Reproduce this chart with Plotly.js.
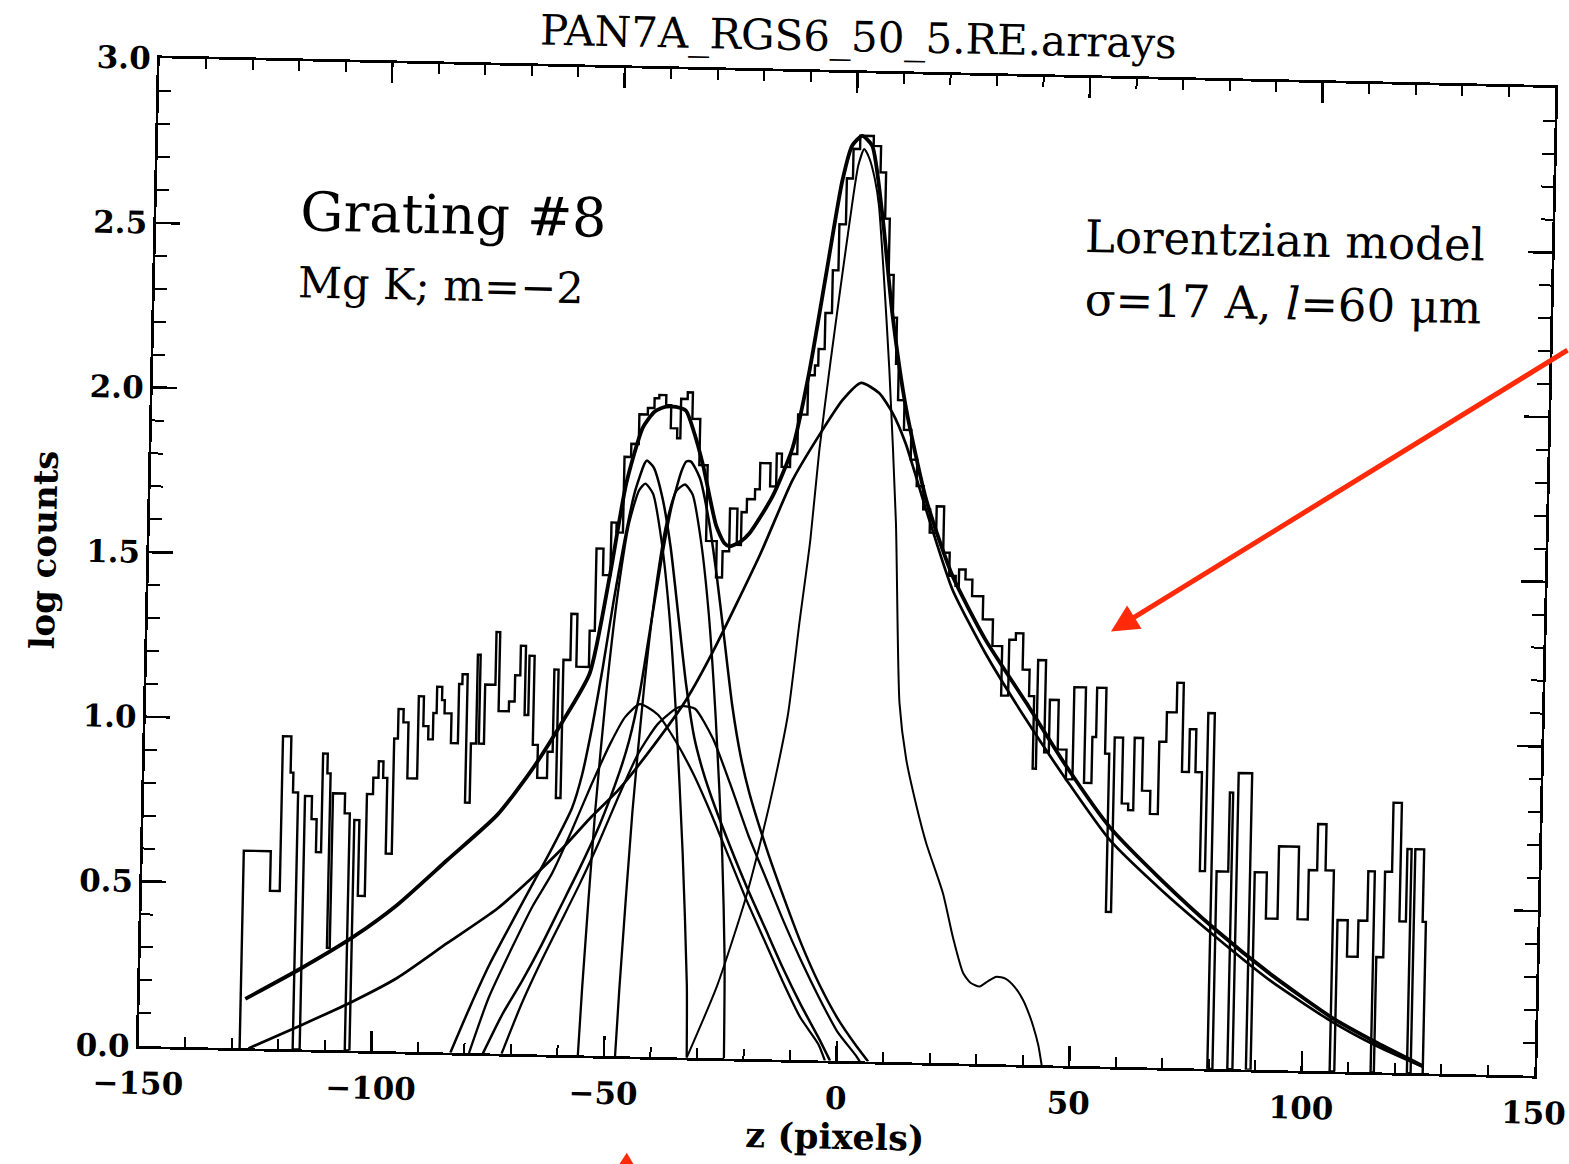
<!DOCTYPE html>
<html>
<head>
<meta charset="utf-8">
<script src="https://cdn.plot.ly/plotly-3.0.1.min.js"></script>
<style>
html,body{margin:0;padding:0;background:#fff;overflow:hidden;width:1569px;height:1164px;}
#plot{width:1600px;height:1190px;transform-origin:847px 567.5px;transform:rotate(1.22deg);}
</style>
</head>
<body>
<div id="plot"></div>
<script>
// ---- histogram (left edge of each step, log counts) ----
const histEdges = [-128.3,-122.5,-120.4,-118.6,-118.0,-116.9,-115.4,-113.9,-112.8,-111.7,-110.7,-110.0,-109.4,-106.8,-105.7,-104.7,-103.6,-102.1,-100.8,-99.7,-98.7,-97.8,-96.5,-95.7,-94.6,-93.5,-91.4,-90.3,-89.2,-88.2,-87.5,-86.4,-85.8,-84.3,-82.8,-82.1,-81.0,-80.0,-78.9,-78.3,-77.2,-75.0,-74.2,-72.0,-70.8,-69.7,-68.6,-67.8,-66.7,-65.6,-63.5,-62.4,-61.5,-60.5,-59.0,-57.7,-55.0,-53.9,-52.4,-50.8,-49.7,-48.3,-46.9,-45.3,-43.5,-42.1,-41.1,-39.6,-38.5,-37.1,-36.4,-35.0,-33.9,-32.2,-30.4,-28.1,-26.8,-25.4,-23.8,-22.9,-21.8,-20.1,-19.1,-16.9,-15.6,-14.5,-12.7,-11.2,-9.2,-7.8,-7.1,-5.8,-4.4,-3.2,-1.8,-0.5,0.9,3.8,5.4,6.6,7.6,8.7,9.6,10.2,11.6,13.2,14.6,16.1,17.6,19.0,20.6,22.0,23.4,24.1,25.5,27.0,29.4,31.6,33.7,35.2,36.6,38.2,39.7,40.8,41.5,43.2,44.2,46.1,48.0,49.4,51.9,53.5,54.3,56.3,57.2,58.3,60.1,61.5,62.6,64.4,66.2,67.9,69.4,71.5,72.9,74.4,75.8,77.2,78.3,79.7,80.8,83.3,84.0,85.1,88.0,89.0,91.6,94.1,98.4,100.6,102.4,104.2,106.0,107.0,109.2,111.5,113.4,114.8,115.5,117.0,118.5,120.3,121.7,122.6,123.4,125.3,126.0];
const histLogCounts = [0.60,0.48,0.95,0.84,0.78,0.00,0.77,0.70,0.60,0.90,0.84,0.31,0.78,0.72,0.00,0.70,0.47,0.78,0.83,0.88,0.83,0.60,0.95,1.04,1.00,0.83,1.08,0.99,0.95,1.03,1.11,1.07,1.03,0.94,1.12,1.15,0.76,0.94,1.21,0.94,1.12,1.28,1.04,1.07,1.15,1.24,1.03,1.21,0.94,0.84,0.92,1.17,0.78,1.20,1.34,1.18,1.29,1.54,1.46,1.62,1.59,1.82,1.86,1.95,1.97,2.00,2.01,1.98,1.91,1.88,2.00,2.02,1.94,1.80,1.57,1.46,1.54,1.67,1.56,1.66,1.70,1.73,1.81,1.74,1.84,1.80,1.84,1.96,2.08,2.11,2.16,2.27,2.40,2.54,2.68,2.77,2.81,2.78,2.70,2.56,2.39,2.26,2.12,2.01,1.92,1.83,1.75,1.68,1.61,1.69,1.55,1.48,1.45,1.50,1.47,1.42,1.35,1.27,1.12,1.29,1.31,1.20,1.12,0.90,1.23,0.95,1.11,0.96,0.87,1.15,0.86,1.00,1.15,0.95,0.47,1.00,0.80,0.78,1.00,0.84,0.77,0.99,1.08,1.17,0.90,1.03,0.90,0.60,1.08,0.00,0.60,0.84,0.00,0.90,0.00,0.60,0.46,0.68,0.46,0.61,0.75,0.61,0.00,0.46,0.35,0.46,0.61,0.00,0.35,0.61,0.82,0.46,0.68,0.00,0.68,0.46,0.00];

// ---- total model ----
const totalZ = [-127.3,-115.6,-104.4,-95.1,-84.6,-74.0,-67.2,-60.3,-54.8,-50.9,-47.8,-44.5,-42.0,-39.6,-37.5,-35.3,-33.5,-31.4,-28.3,-26.5,-25.3,-23.0,-21.1,-16.3,-12.2,-9.0,-5.9,-2.8,-0.8,1.3,3.5,6.0,8.6,11.9,16.7,22.7,30.0,39.1,48.0,57.6,69.0,81.0,93.0,106.4,116.0,126.0];
const totalY = [0.15,0.245,0.345,0.445,0.584,0.725,0.855,1.015,1.16,1.46,1.74,1.91,1.96,1.975,1.975,1.964,1.90,1.80,1.617,1.565,1.555,1.57,1.596,1.71,1.86,2.09,2.38,2.67,2.78,2.81,2.78,2.57,2.27,1.99,1.71,1.48,1.29,1.10,0.91,0.728,0.57,0.421,0.29,0.162,0.09,0.022];

// ---- broad Lorentzian of the main line ----
const broadZ = [-126.4,-115.3,-104.1,-94.7,-84.2,-73.6,-66.7,-59.7,-54.1,-48.0,-40.0,-34.0,-28.4,-18.8,-12.1,-6.5,-1.7,2.2,6.1,9.1,12.0,16.7,22.7,30.0,39.1,48.0,57.6,69.0,81.0,93.0,106.4,116.0,126.0];
const broadY = [0.0,0.073,0.15,0.224,0.332,0.44,0.53,0.63,0.72,0.81,0.96,1.085,1.235,1.53,1.76,1.90,2.007,2.06,2.03,1.97,1.88,1.68,1.44,1.25,1.05,0.87,0.69,0.54,0.40,0.27,0.15,0.08,0.02];

// ---- core of the main line ----
const coreZ = [-32.2,-26.0,-20.4,-17.0,-14.5,-12.0,-9.95,-8.0,-6.5,-4.5,-2.9,-1.0,0.6,1.8,3.0,4.2,5.2,6.5,8.2,10.3,11.9,13.6,16.0,18.3,22.1,24.5,26.8,28.5,30.4,32.2,34.0,36.0,38.0,39.8,41.0,42.1,43.3,44.1];
const coreY = [0.0,0.22,0.48,0.68,0.85,1.05,1.33,1.58,1.85,2.12,2.32,2.55,2.72,2.77,2.74,2.68,2.60,2.40,2.10,1.64,1.09,0.92,0.78,0.666,0.516,0.38,0.275,0.245,0.235,0.252,0.266,0.26,0.235,0.197,0.16,0.118,0.06,0.0];

// ---- satellite line 1: core, wing, core+wing ----
const sat1CoreZ = [-55.6,-55.0,-53.0,-51.0,-49.0,-47.0,-45.0,-43.7,-42.0,-40.0,-38.0,-36.0,-34.0,-32.5,-32.2];
const sat1CoreY = [0.0,0.2,0.74,1.13,1.42,1.62,1.72,1.74,1.71,1.57,1.35,1.03,0.62,0.22,0.0];
const sat1WingZ = [-79,-75,-70,-66,-62,-58,-54,-50,-47,-43.9,-40,-36,-32,-28,-24,-20,-16,-12,-8,-4,-2.5];
const sat1WingY = [0.0,0.17,0.33,0.45,0.55,0.68,0.82,0.95,1.03,1.07,1.04,0.96,0.86,0.74,0.61,0.48,0.36,0.24,0.13,0.05,0.0];
const sat1TotZ = [-83,-79,-75,-70,-66,-62,-58,-56,-54,-52,-50,-48,-46,-44,-43.5,-42,-40,-38,-36,-34,-32,-30,-28,-24,-20,-16,-12,-8,-4,-1.4];
const sat1TotY = [0.0,0.14,0.27,0.41,0.52,0.63,0.75,0.85,1.0,1.18,1.38,1.56,1.71,1.80,1.81,1.79,1.70,1.55,1.34,1.13,0.97,0.87,0.79,0.65,0.52,0.40,0.28,0.17,0.07,0.0];

// ---- satellite line 2: core, wing, core+wing ----
const sat2CoreZ = [-47.6,-47.0,-45.0,-43.0,-41.0,-39.0,-37.0,-35.2,-33.5,-31.5,-29.5,-27.5,-25.5,-24.5,-24.2];
const sat2CoreY = [0.0,0.2,0.74,1.13,1.42,1.62,1.72,1.74,1.71,1.57,1.35,1.03,0.62,0.30,0.0];
const sat2WingZ = [-72,-68,-64,-60,-56,-52,-48,-44,-40,-36,-34.5,-32,-28,-24,-20,-16,-12,-8,-4,0,4,5];
const sat2WingY = [0.0,0.15,0.28,0.40,0.52,0.65,0.79,0.92,1.01,1.06,1.067,1.06,0.97,0.83,0.68,0.55,0.42,0.30,0.19,0.09,0.02,0.0];
const sat2TotZ = [-76,-72,-68,-64,-60,-56,-52,-48,-46,-44,-42,-40,-38,-36,-35,-34,-32,-30,-28,-26,-24,-22,-20,-16,-12,-8,-4,0,4,6.8];
const sat2TotY = [0.0,0.12,0.22,0.33,0.45,0.57,0.70,0.86,0.96,1.10,1.30,1.50,1.67,1.78,1.81,1.81,1.76,1.64,1.47,1.27,1.07,0.92,0.81,0.64,0.49,0.35,0.23,0.13,0.05,0.0];

// ---- axis ticks ----
const xTicks = [-150,-100,-50,0,50,100,150];
const yTicks = [0.0,0.5,1.0,1.5,2.0,2.5,3.0];

const FONT = 'DejaVu Serif, Liberation Serif, serif';

// histogram as steps
const hx = [histEdges[0]].concat(histEdges);
const hy = [0].concat(histLogCounts);

function curve(x, y, w) {
  return {type:'scatter', mode:'lines', x:x, y:y, line:{color:'#000', width:w, shape:'spline', smoothing:0.6}, hoverinfo:'skip', showlegend:false};
}

const traces = [
  {type:'scatter', mode:'lines', x:hx, y:hy, line:{color:'#000', width:2.4, shape:'hv'}, hoverinfo:'skip', showlegend:false},
  curve(sat1WingZ, sat1WingY, 2.3),
  curve(sat2WingZ, sat2WingY, 2.3),
  curve(sat1CoreZ, sat1CoreY, 2.3),
  curve(sat2CoreZ, sat2CoreY, 2.3),
  curve(sat1TotZ, sat1TotY, 2.5),
  curve(sat2TotZ, sat2TotY, 2.5),
  curve(coreZ, coreY, 2.0),
  curve(broadZ, broadY, 2.7),
  curve(totalZ, totalY, 3.8)
];

const axisCommon = {
  showline:true, linecolor:'#000', linewidth:2.8, mirror:'allticks',
  ticks:'inside', tickcolor:'#000', tickwidth:2.6,
  showgrid:false, zeroline:false, ticklabeloverflow:'allow',
  tickfont:{family:FONT, size:31, color:'#000', weight:'bold'}
};

const layout = {
  width:1600, height:1190,
  paper_bgcolor:'#fff', plot_bgcolor:'#fff',
  margin:{l:149, r:55, t:73, b:129},
  title:{text:'PAN7A_RGS6_50_5.RE.arrays', font:{family:FONT, size:42, color:'#000'},
         xref:'paper', x:0.5, xanchor:'center', yref:'paper', y:1.028, yanchor:'middle'},
  xaxis:Object.assign({}, axisCommon, {
    range:[-150,150], tickmode:'array', tickvals:xTicks, ticklen:20,
    ticklabelstandoff:8,
    minor:{ticks:'inside', dtick:10, ticklen:10, tickwidth:2, tickcolor:'#000'},
    title:{text:'z (pixels)', font:{family:FONT, size:35, color:'#000', weight:'bold'}, standoff:4}
  }),
  yaxis:Object.assign({}, axisCommon, {
    range:[0,3], tickmode:'array', tickvals:yTicks, ticktext:yTicks.map(v=>v.toFixed(1)), ticklen:24,
    minor:{ticks:'inside', dtick:0.1, ticklen:12, tickwidth:2, tickcolor:'#000'},
    title:{text:'log counts', font:{family:FONT, size:34, color:'#000', weight:'bold'}, standoff:20}
  }),
  annotations:[
    {xref:'paper', yref:'paper', x:0.102, y:0.848, xanchor:'left', yanchor:'middle', showarrow:false,
     text:'Grating #8', font:{family:FONT, size:54, color:'#000'}},
    {xref:'paper', yref:'paper', x:0.1009, y:0.776, xanchor:'left', yanchor:'middle', showarrow:false,
     text:'Mg K; m=\u22122', font:{family:FONT, size:43, color:'#000'}},
    {xref:'paper', yref:'paper', x:0.664, y:0.8396, xanchor:'left', yanchor:'middle', showarrow:false,
     text:'Lorentzian model', font:{family:FONT, size:45, color:'#000'}},
    {xref:'paper', yref:'paper', x:0.665, y:0.7758, xanchor:'left', yanchor:'middle', showarrow:false,
     text:'\u03c3=17 A, <i>l</i>=60 \u03bcm', font:{family:FONT, size:45, color:'#000'}},
    {xref:'x', yref:'y', x:57.0, y:1.321, ax:452, ay:-292, text:'', showarrow:true,
     arrowhead:2, arrowsize:1.1, arrowwidth:5, arrowcolor:'#ff2a0a'}
  ],
  shapes:[
    {type:'path', xref:'paper', yref:'paper', path:'M 0.3448 -0.112 L 0.3512 -0.0975 L 0.3576 -0.112 Z',
     fillcolor:'#ff2a0a', line:{width:0}}
  ]
};

Plotly.newPlot('plot', traces, layout, {staticPlot:true, displayModeBar:false});
</script>
</body>
</html>
